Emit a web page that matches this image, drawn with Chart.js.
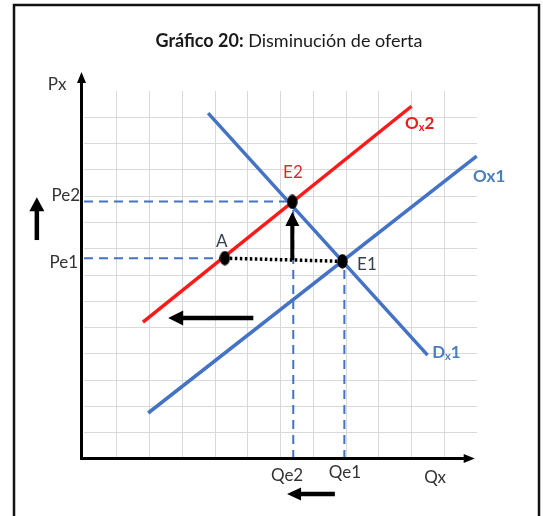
<!DOCTYPE html>
<html><head><meta charset="utf-8">
<script src="https://cdn.jsdelivr.net/npm/chart.js@4/dist/chart.umd.min.js"></script>
<style>html,body{margin:0;padding:0;background:#fff;overflow:hidden}canvas{display:block}</style>
</head><body>
<canvas id="c" width="543" height="516" style="width:543px;height:516px"></canvas>
<script>
// ---- data (in chart units) ----
const xRange = [0, 12];
const yRange = [0, 14];
const demandDx1 = [{x:3.79,y:13.16},{x:10.49,y:3.95}];
const supplyOx1 = [{x:1.96,y:1.75},{x:11.99,y:11.52}];
const supplyOx2 = [{x:1.80,y:5.21},{x:10.00,y:13.42}];
const pointA  = {x:4.30, y:7.64};
const pointE2 = {x:6.36, y:9.78};
const pointE1 = {x:7.89, y:7.52};
const markedPoints = [pointA, pointE2, pointE1];
const refPe2 = [{x:0,y:9.8},{x:6.36,y:9.8}];
const refPe1 = [{x:0,y:7.64},{x:4.30,y:7.64}];
const refQe2 = [{x:6.39,y:0},{x:6.39,y:9.8}];
const refQe1 = [{x:7.95,y:0},{x:7.95,y:7.52}];
const dottedAE1 = [pointA, pointE1];
const shiftArrows = [
  {from:{x:6.36,y:7.57}, to:{x:6.36,y:9.40}, hl:14, hw:14, w:4},
  {from:{x:5.17,y:5.36}, to:{x:2.57,y:5.36}, hl:15, hw:15, w:4.5},
  {from:{x:-1.44,y:8.33}, to:{x:-1.44,y:9.96}, hl:14, hw:15, w:4.5},
  {from:{x:7.66,y:-1.33}, to:{x:6.20,y:-1.33}, hl:14, hw:13, w:4.5}
];
const labels = [
  {t:'Px',  x:-0.82, y:14.23, a:'center', c:'#333333'},
  {t:'Pe2', x:-0.12, y:10.04, a:'right',  c:'#333333'},
  {t:'Pe1', x:-0.18, y:7.49,  a:'right',  c:'#333333'},
  {t:'Qe2', x:6.20,  y:-0.61, a:'center', c:'#333333'},
  {t:'Qe1', x:7.97,  y:-0.53, a:'center', c:'#333333'},
  {t:'Qx',  x:10.72, y:-0.72, a:'center', c:'#333333'},
  {t:'E2',  x:6.38,  y:10.88, a:'center', c:'#e02a2a'},
  {t:'E1',  x:8.64,  y:7.38,  a:'center', c:'#35404f'},
  {t:'A',   x:4.21,  y:8.29,  a:'center', c:'#35404f'}
];
const curveLabels = [
  {main:'O', sub:'x', tail:'2', x:9.80, y:12.78, c:'#e81e1e'},
  {main:'Ox1', sub:'', tail:'', x:11.88, y:10.73, c:'#4a7ebf'},
  {main:'D', sub:'x', tail:'1', x:10.63, y:4.07, c:'#4a7ebf'}
];
const titleBold = 'Gráfico 20:';
const titleRest = ' Disminución de oferta';

const BLUE = '#4472c4', RED = '#ff1a1a';
const FONT = 'Lato, "Open Sans", sans-serif';

// ellipse marker image
const dot = document.createElement('canvas');
dot.width = 11; dot.height = 15;
(function(){const g=dot.getContext('2d');g.fillStyle='#000';g.beginPath();g.ellipse(5.5,7.5,5.2,7.2,0,0,Math.PI*2);g.fill();})();

function arrow(ctx, x1, y1, x2, y2, w, hl, hw){
  const ang = Math.atan2(y2-y1, x2-x1);
  const bx = x2 - hl*Math.cos(ang), by = y2 - hl*Math.sin(ang);
  ctx.save();
  ctx.strokeStyle='#000'; ctx.fillStyle='#000'; ctx.lineWidth=w; ctx.lineCap='butt';
  ctx.beginPath(); ctx.moveTo(x1,y1); ctx.lineTo(bx+Math.cos(ang),by+Math.sin(ang)); ctx.stroke();
  ctx.beginPath();
  ctx.moveTo(x2,y2);
  ctx.lineTo(bx + hw/2*Math.sin(ang), by - hw/2*Math.cos(ang));
  ctx.lineTo(bx - hw/2*Math.sin(ang), by + hw/2*Math.cos(ang));
  ctx.closePath(); ctx.fill();
  ctx.restore();
}

const decor = {
  id:'decor',
  afterDraw(chart){
    const ctx = chart.ctx, xs = chart.scales.x, ys = chart.scales.y;
    const px = v => xs.getPixelForValue(v), py = v => ys.getPixelForValue(v);
    ctx.save();
    // frame
    ctx.strokeStyle='#111'; ctx.lineWidth=2.5;
    ctx.strokeRect(14, 5, 525, 530);
    // axes
    const ox = px(0) - 2.5, oy = py(0) - 0.5;
    arrow(ctx, ox, oy+1.5, ox, py(14.72), 3, 11, 9);
    arrow(ctx, ox-1.5, oy, px(11.93), oy, 3, 11, 9);
    // shift arrows
    shiftArrows.forEach(a => arrow(ctx, px(a.from.x), py(a.from.y), px(a.to.x), py(a.to.y), a.w, a.hl, a.hw));
    // labels
    ctx.textBaseline='middle';
    ctx.font = '17px ' + FONT;
    labels.forEach(l => { ctx.fillStyle=l.c; ctx.textAlign=l.a; ctx.fillText(l.t, px(l.x), py(l.y)); });
    ctx.textAlign='left';
    curveLabels.forEach(l => {
      let x = px(l.x); const y = py(l.y);
      ctx.fillStyle = l.c;
      ctx.font = 'bold 17px ' + FONT; ctx.fillText(l.main, x, y); x += ctx.measureText(l.main).width;
      if (l.sub){ ctx.font='bold 11px ' + FONT; ctx.fillText(l.sub, x, y+4); x += ctx.measureText(l.sub).width; }
      if (l.tail){ ctx.font='bold 17px ' + FONT; ctx.fillText(l.tail, x, y); }
    });
    // title
    ctx.fillStyle='#1a1a1a';
    ctx.font='bold 18px ' + FONT; const w1 = ctx.measureText(titleBold).width;
    ctx.font='18px ' + FONT; const w2 = ctx.measureText(titleRest).width;
    let tx = 289 - (w1+w2)/2;
    ctx.font='bold 18px ' + FONT; ctx.fillText(titleBold, tx, 41);
    ctx.font='18px ' + FONT; ctx.fillText(titleRest, tx + w1, 41);
    ctx.restore();
  }
};

const lineDs = (data, color, width, dash) => ({
  type:'line', data, borderColor:color, borderWidth:width, borderDash:dash||[],
  pointRadius:0, fill:false, tension:0, clip:false, borderCapStyle:'butt'
});

new Chart(document.getElementById('c'), {
  type:'scatter',
  data:{ datasets:[
    {data:markedPoints, pointStyle:dot, pointRadius:6, backgroundColor:'#000', borderWidth:0},
    lineDs(dottedAE1, '#000', 3.5, [2.5,2.5]),
    lineDs(supplyOx2, RED, 3.5),
    lineDs(demandDx1, BLUE, 3.5),
    lineDs(supplyOx1, BLUE, 3.5),
    lineDs(refPe2, BLUE, 2, [9,6]),
    lineDs(refPe1, BLUE, 2, [9,6]),
    lineDs(refQe2, BLUE, 2, [9,6]),
    lineDs(refQe1, BLUE, 2, [9,6])
  ]},
  options:{
    responsive:false, animation:false, devicePixelRatio:1,
    layout:{padding:{left:84, right:66, top:91, bottom:57}},
    plugins:{legend:{display:false}, tooltip:{enabled:false}, title:{display:false}},
    scales:{
      x:{type:'linear', min:xRange[0], max:xRange[1],
         ticks:{display:false, stepSize:1}, border:{display:false},
         grid:{drawTicks:false, color:c => (c.tick.value===xRange[0]||c.tick.value===xRange[1])?'rgba(0,0,0,0)':'#d9d9d9', lineWidth:1}},
      y:{type:'linear', min:yRange[0], max:yRange[1],
         ticks:{display:false, stepSize:1}, border:{display:false},
         grid:{drawTicks:false, color:c => (c.tick.value===yRange[0]||c.tick.value===yRange[1])?'rgba(0,0,0,0)':'#d9d9d9', lineWidth:1}}
    }
  },
  plugins:[decor]
});
</script>
</body></html>
